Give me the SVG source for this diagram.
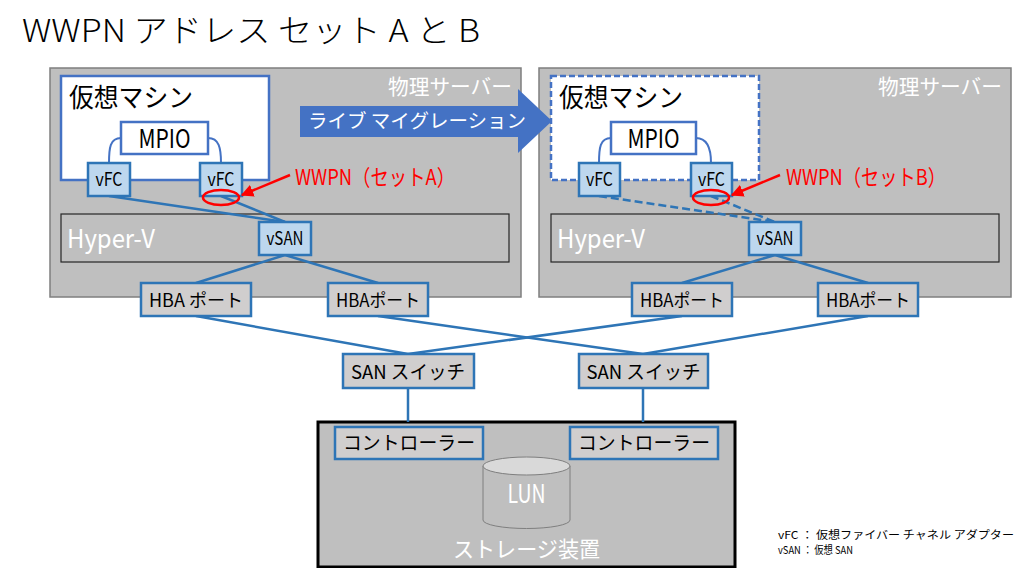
<svg xmlns="http://www.w3.org/2000/svg" width="1024" height="568" viewBox="0 0 1024 568">
<defs>
<style>
text{font-family:"Noto Sans CJK JP","Noto Sans",sans-serif;}
.srv{fill:#bfbfbf;stroke:#7f7f7f;stroke-width:1.5;}
.hv{fill:#bfbfbf;stroke:#262626;stroke-width:1.2;}
.vm{fill:#ffffff;stroke:#4472c4;stroke-width:2.5;}
.vmd{fill:#ffffff;stroke:#4472c4;stroke-width:2.5;stroke-dasharray:6 3;}
.mp{fill:#ffffff;stroke:#4472c4;stroke-width:2.5;}
.lb{fill:#bdd7ee;stroke:#2e75b6;stroke-width:2.5;}
.gb{fill:#d0cece;stroke:#2e75b6;stroke-width:2.5;}
.con{fill:none;stroke:#2e75b6;stroke-width:2.5;}
.dash{stroke-dasharray:8 4;}
.arc{fill:none;stroke:#4472c4;stroke-width:2;}
.wt{fill:#ffffff;}
.bk{fill:#000000;}
.red{fill:#ff0000;}
</style>
<marker id="ra" viewBox="0 0 10 10" refX="9" refY="5" markerWidth="5" markerHeight="5" orient="auto">
<path d="M0,0 L10,5 L0,10 z" fill="#ff0000"/>
</marker>
</defs>
<rect width="1024" height="568" fill="#ffffff"/>
<text x="22" y="42" font-size="32" font-weight="300" class="bk" textLength="458" lengthAdjust="spacingAndGlyphs">WWPN アドレス セット A と B</text>

<g id="server-left">
<rect class="srv" x="50" y="68" width="471" height="229"/>
<text x="388" y="94" font-size="21" class="wt" textLength="124" lengthAdjust="spacingAndGlyphs">物理サーバー</text>
</g>
<g id="server-right">
<rect class="srv" x="539" y="68" width="472" height="229"/>
<text x="878" y="94" font-size="21" class="wt" textLength="124" lengthAdjust="spacingAndGlyphs">物理サーバー</text>
</g>
<g id="hyperv-left">
<rect class="hv" x="61" y="214" width="448" height="48"/>
<text x="67" y="248" font-size="26" class="wt" textLength="88" lengthAdjust="spacingAndGlyphs">Hyper-V</text>
</g>
<g id="hyperv-right">
<rect class="hv" x="551" y="214" width="448" height="48"/>
<text x="557" y="248" font-size="26" class="wt" textLength="88" lengthAdjust="spacingAndGlyphs">Hyper-V</text>
</g>
<g id="vm-left">
<rect class="vm" x="61" y="76" width="208" height="104"/>
<text x="69" y="107" font-size="26" class="bk" textLength="124" lengthAdjust="spacingAndGlyphs">仮想マシン</text>
</g>
<g id="vm-right">
<rect class="vmd" x="551" y="76" width="208" height="104"/>
<text x="559" y="107" font-size="26" class="bk" textLength="124" lengthAdjust="spacingAndGlyphs">仮想マシン</text>
</g>
<g id="storage">
<rect x="318" y="422" width="417" height="145" fill="#bfbfbf" stroke="#000000" stroke-width="3"/>
<text x="453" y="557" font-size="22" class="wt" textLength="147" lengthAdjust="spacingAndGlyphs">ストレージ装置</text>
</g>

<g id="connectors">
<path class="arc" d="M121,138 C110,138 109,148 109,163"/>
<path class="arc" d="M208,138 C219,138 221,148 221,163"/>
<path class="arc" d="M611,138 C600,138 599,148 599,163"/>
<path class="arc" d="M696,138 C707,138 711,148 711,163"/>
<line class="con" x1="109" y1="196" x2="285" y2="222"/>
<line class="con" x1="221" y1="196" x2="285" y2="222"/>
<line class="con dash" x1="599" y1="196" x2="775" y2="222"/>
<line class="con dash" x1="711" y1="196" x2="775" y2="222"/>
<line class="con" x1="285" y1="255" x2="196" y2="283"/>
<line class="con" x1="285" y1="255" x2="378" y2="283"/>
<line class="con" x1="775" y1="255" x2="682" y2="283"/>
<line class="con" x1="775" y1="255" x2="868" y2="283"/>
<line class="con" x1="196" y1="316" x2="408" y2="354"/>
<line class="con" x1="378" y1="316" x2="643" y2="354"/>
<line class="con" x1="682" y1="316" x2="408" y2="354"/>
<line class="con" x1="868" y1="316" x2="643" y2="354"/>
<line class="con" x1="408" y1="388" x2="408" y2="422"/>
<line class="con" x1="643" y1="388" x2="643" y2="422"/>
</g>

<g id="migration-arrow">
<polygon points="300,106 518,106 518,89 552,121 518,153 518,137 300,137" fill="#4472c4"/>
<text x="308" y="128" font-size="19" class="wt" textLength="218" lengthAdjust="spacingAndGlyphs">ライブ マイグレーション</text>
</g>

<g id="mpio-left">
<rect class="mp" x="121" y="122" width="87" height="32"/>
<text x="164.5" y="147.5" font-size="26" class="bk" text-anchor="middle" textLength="52" lengthAdjust="spacingAndGlyphs">MPIO</text>
</g>
<g id="mpio-right">
<rect class="mp" x="611" y="122" width="85" height="32"/>
<text x="653.5" y="147.5" font-size="26" class="bk" text-anchor="middle" textLength="52" lengthAdjust="spacingAndGlyphs">MPIO</text>
</g>
<g id="vfc-left-1">
<rect class="lb" x="88" y="163" width="42" height="33"/>
<text x="109" y="186" font-size="18" class="bk" text-anchor="middle" textLength="27" lengthAdjust="spacingAndGlyphs">vFC</text>
</g>
<g id="vfc-left-2">
<rect class="lb" x="200" y="163" width="42" height="33"/>
<text x="221" y="186" font-size="18" class="bk" text-anchor="middle" textLength="27" lengthAdjust="spacingAndGlyphs">vFC</text>
</g>
<g id="vfc-right-1">
<rect class="lb" x="579" y="163" width="41" height="33"/>
<text x="599.5" y="186" font-size="18" class="bk" text-anchor="middle" textLength="27" lengthAdjust="spacingAndGlyphs">vFC</text>
</g>
<g id="vfc-right-2">
<rect class="lb" x="691" y="163" width="41" height="33"/>
<text x="711.5" y="186" font-size="18" class="bk" text-anchor="middle" textLength="27" lengthAdjust="spacingAndGlyphs">vFC</text>
</g>
<g id="vsan-left">
<rect class="lb" x="259" y="222" width="52" height="33"/>
<text x="285" y="245" font-size="18" class="bk" text-anchor="middle" textLength="37" lengthAdjust="spacingAndGlyphs">vSAN</text>
</g>
<g id="vsan-right">
<rect class="lb" x="749" y="222" width="52" height="33"/>
<text x="775" y="245" font-size="18" class="bk" text-anchor="middle" textLength="37" lengthAdjust="spacingAndGlyphs">vSAN</text>
</g>
<g id="hba-1">
<rect class="gb" x="141" y="283" width="110" height="33"/>
<text x="196" y="306.5" font-size="18" class="bk" text-anchor="middle" textLength="94" lengthAdjust="spacingAndGlyphs">HBA ポート</text>
</g>
<g id="hba-2">
<rect class="gb" x="328" y="283" width="100" height="33"/>
<text x="378" y="306.5" font-size="18" class="bk" text-anchor="middle" textLength="84" lengthAdjust="spacingAndGlyphs">HBAポート</text>
</g>
<g id="hba-3">
<rect class="gb" x="632" y="283" width="100" height="33"/>
<text x="682" y="306.5" font-size="18" class="bk" text-anchor="middle" textLength="84" lengthAdjust="spacingAndGlyphs">HBAポート</text>
</g>
<g id="hba-4">
<rect class="gb" x="818" y="283" width="100" height="33"/>
<text x="868" y="306.5" font-size="18" class="bk" text-anchor="middle" textLength="84" lengthAdjust="spacingAndGlyphs">HBAポート</text>
</g>
<g id="san-switch-1">
<rect class="gb" x="343" y="354" width="131" height="34"/>
<text x="408" y="378.5" font-size="19" class="bk" text-anchor="middle" textLength="114" lengthAdjust="spacingAndGlyphs">SAN スイッチ</text>
</g>
<g id="san-switch-2">
<rect class="gb" x="579" y="354" width="129" height="34"/>
<text x="643.5" y="378.5" font-size="19" class="bk" text-anchor="middle" textLength="114" lengthAdjust="spacingAndGlyphs">SAN スイッチ</text>
</g>
<g id="controller-1">
<rect class="gb" x="335" y="427" width="148" height="32"/>
<text x="409" y="450" font-size="19" class="bk" text-anchor="middle" textLength="132" lengthAdjust="spacingAndGlyphs">コントローラー</text>
</g>
<g id="controller-2">
<rect class="gb" x="570" y="427" width="148" height="32"/>
<text x="644" y="450" font-size="19" class="bk" text-anchor="middle" textLength="132" lengthAdjust="spacingAndGlyphs">コントローラー</text>
</g>
<g id="lun">
<path d="M483,466 L483,520 A43.5,8.5 0 0 0 570,520 L570,466" fill="#bfbfbf" stroke="#7f7f7f" stroke-width="1"/>
<ellipse cx="526.5" cy="466" rx="43.5" ry="9" fill="#d9d9d9" stroke="#7f7f7f" stroke-width="1"/>
<text x="526.5" y="503" font-size="25" class="wt" text-anchor="middle" textLength="38" lengthAdjust="spacingAndGlyphs">LUN</text>
</g>

<g id="wwpn-a">
<ellipse cx="221" cy="197.5" rx="18" ry="7.5" fill="none" stroke="#ff0000" stroke-width="2.5"/>
<line x1="290" y1="175" x2="242" y2="195" stroke="#ff0000" stroke-width="2.5" marker-end="url(#ra)"/>
<text x="295" y="184.5" font-size="22" class="red" textLength="160" lengthAdjust="spacingAndGlyphs">WWPN（セットA）</text>
</g>
<g id="wwpn-b">
<ellipse cx="711" cy="197.5" rx="18" ry="7.5" fill="none" stroke="#ff0000" stroke-width="2.5"/>
<line x1="780" y1="175" x2="732" y2="195" stroke="#ff0000" stroke-width="2.5" marker-end="url(#ra)"/>
<text x="786" y="184.5" font-size="22" class="red" textLength="160" lengthAdjust="spacingAndGlyphs">WWPN（セットB）</text>
</g>

<g id="legend">
<text x="778" y="539" font-size="11" class="bk" textLength="236" lengthAdjust="spacingAndGlyphs">vFC ： 仮想ファイバー チャネル アダプター</text>
<text x="778" y="554" font-size="11" class="bk" textLength="75" lengthAdjust="spacingAndGlyphs">vSAN ： 仮想 SAN</text>
</g>
</svg>
